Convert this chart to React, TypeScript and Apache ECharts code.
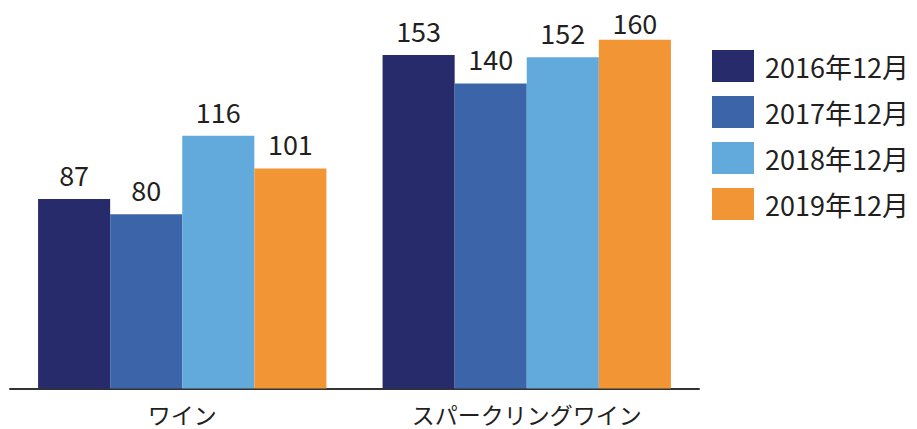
import React, { useEffect, useRef } from "react";
import * as echarts from "echarts";

const categories = ["ワイン", "スパークリングワイン"];
const seriesNames = ["2016年12月", "2017年12月", "2018年12月", "2019年12月"];
const values2016 = [87, 153];
const values2017 = [80, 140];
const values2018 = [116, 152];
const values2019 = [101, 160];
const colors = ["#272B6C", "#3C64A9", "#63AADC", "#F29535"];

const FONT = "'Noto Sans CJK JP', 'Noto Sans', sans-serif";

export default function App() {
  const ref = useRef<HTMLDivElement>(null);
  useEffect(() => {
    if (!ref.current) return;
    const chart = echarts.init(ref.current, undefined, { renderer: "svg" });
    const allValues = [values2016, values2017, values2018, values2019];
    chart.setOption({
      animation: false,
      textStyle: { fontFamily: FONT },
      grid: { left: 10, right: 218, top: 5, bottom: 40.5, containLabel: false },
      legend: {
        orient: "vertical",
        left: 712,
        top: 50,
        padding: 0,
        itemWidth: 42,
        itemHeight: 32,
        itemGap: 14,
        icon: "rect",
        textStyle: { fontSize: 27, color: "#231F20", fontFamily: FONT, padding: [0, 0, 0, 6] },
        data: seriesNames,
      },
      xAxis: {
        type: "category",
        data: categories,
        axisLine: { lineStyle: { color: "#333", width: 2 } },
        axisTick: { show: false },
        axisLabel: { fontSize: 23, lineHeight: 24, color: "#231F20", margin: 13, fontFamily: FONT },
      },
      yAxis: {
        type: "value",
        min: 0,
        max: 176,
        show: false,
        splitLine: { show: false },
      },
      series: seriesNames.map((name, i) => ({
        name,
        type: "bar",
        data: allValues[i].map((v, j) =>
          i === 3 && j === 1 ? { value: v, label: { distance: 4 } } : v
        ),
        barGap: "0%",
        barCategoryGap: "16.3%",
        itemStyle: { color: colors[i] },
        label: {
          show: true,
          position: "top",
          distance: 11,
          fontSize: 27,
          color: "#231F20",
          fontFamily: FONT,
        },
      })),
    });
    return () => chart.dispose();
  }, []);
  return <div ref={ref} style={{ width: 917, height: 429, position: "absolute", left: 0, top: 0 }} />;
}
